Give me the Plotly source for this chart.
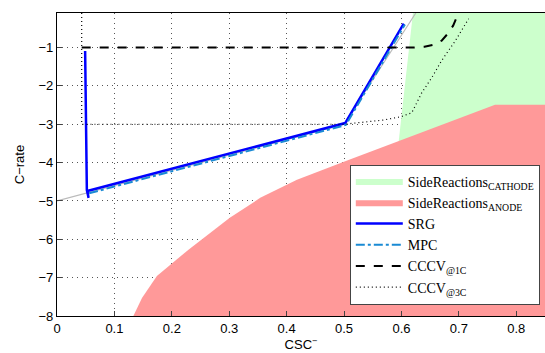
import plotly.graph_objects as go

# Side-reaction regions
cathode_x = [0.620, 0.594, 0.85, 0.85]
cathode_y = [-0.1, -3.6, -3.6, -0.1]

anode_x = [0.133, 0.148, 0.174, 0.214, 0.229, 0.301, 0.354, 0.418, 0.51, 0.763, 0.85, 0.85]
anode_y = [-8.0, -7.53, -6.96, -6.44, -6.27, -5.44, -4.92, -4.45, -3.92, -2.49, -2.49, -8.0]

# Reference (gray) boundary line
ref_x = [0.0, 0.5, 0.625]
ref_y = [-5.0, -3.0, -0.1]

# SRG trajectory
srg_x = [0.049, 0.050, 0.051, 0.052, 0.054, 0.055, 0.053, 0.502, 0.604]
srg_y = [-1.09, -2.0, -3.5, -4.72, -4.85, -4.92, -4.74, -2.97, -0.38]

# MPC trajectory
mpc_x = [0.056, 0.503, 0.606]
mpc_y = [-4.80, -3.02, -0.40]

# CCCV @1C
c1_x = [0.043, 0.62, 0.64, 0.655, 0.67, 0.68, 0.69, 0.695, 0.697]
c1_y = [-1.0, -1.0, -0.98, -0.93, -0.82, -0.65, -0.43, -0.25, -0.1]

# CCCV @3C
c3_x = [0.043, 0.043, 0.50, 0.569, 0.60, 0.618, 0.635, 0.653, 0.67, 0.694, 0.717]
c3_y = [-0.1, -3.0, -3.0, -2.89, -2.8, -2.7, -2.19, -1.78, -1.34, -0.82, -0.25]

x_ticks = [0, 0.1, 0.2, 0.3, 0.4, 0.5, 0.6, 0.7, 0.8]
y_ticks = [-8, -7, -6, -5, -4, -3, -2, -1]

fig = go.Figure()
fig.add_trace(go.Scatter(x=cathode_x, y=cathode_y, fill="toself", mode="lines",
                         line=dict(width=0, color="#ccffcc"), fillcolor="#ccffcc",
                         name="SideReactions<sub>CATHODE</sub>"))
fig.add_trace(go.Scatter(x=anode_x, y=anode_y, fill="toself", mode="lines",
                         line=dict(width=0, color="#ff9999"), fillcolor="#ff9999",
                         name="SideReactions<sub>ANODE</sub>"))
fig.add_trace(go.Scatter(x=ref_x, y=ref_y, mode="lines", line=dict(color="#bbbbbb", width=1.2),
                         showlegend=False, hoverinfo="skip"))
fig.add_trace(go.Scatter(x=srg_x, y=srg_y, mode="lines", line=dict(color="#0000ff", width=2.5),
                         name="SRG"))
fig.add_trace(go.Scatter(x=mpc_x, y=mpc_y, mode="lines",
                         line=dict(color="#1a8ad4", width=2, dash="dashdot"), name="MPC"))
fig.add_trace(go.Scatter(x=c1_x, y=c1_y, mode="lines", line=dict(color="black", width=2, dash="dash"),
                         name="CCCV<sub>@1C</sub>"))
fig.add_trace(go.Scatter(x=c3_x, y=c3_y, mode="lines", line=dict(color="black", width=1.2, dash="1px,3px"),
                         name="CCCV<sub>@3C</sub>"))

axis_common = dict(showline=True, linecolor="black", linewidth=1.3, ticks="inside", ticklen=5,
                   tickcolor="#444", showgrid=True, gridcolor="#555", griddash="1px,4px",
                   gridwidth=1, zeroline=False, automargin=False,
                   tickfont=dict(family="Liberation Sans", size=13, color="black"))

fig.update_xaxes(range=[0, 0.85], tickvals=x_ticks, ticktext=[str(v) for v in x_ticks], mirror=True,
                 title=dict(text="CSC<sup>−</sup>", font=dict(family="Liberation Sans", size=13, color="black"),
                            standoff=5),
                 **axis_common)
fig.update_yaxes(range=[-8, -0.1], tickvals=y_ticks, ticktext=["−" + str(-v) for v in y_ticks],
                 title=dict(text="C−rate", font=dict(family="Liberation Sans", size=13, color="black"),
                            standoff=10),
                 **axis_common)

fig.update_layout(width=545, height=353, autosize=False,
                  margin=dict(l=57, r=0, t=13, b=37),
                  plot_bgcolor="white", paper_bgcolor="white",
                  legend=dict(x=0.6, y=0.5, xanchor="left", yanchor="top",
                              bgcolor="white", bordercolor="#444", borderwidth=1,
                              font=dict(family="Liberation Serif", size=14, color="black"),
                              itemwidth=47, tracegroupgap=0),
                  showlegend=True)

fig.write_html("out.html", config={"displayModeBar": False},
               post_script="document.body.style.margin='0';document.body.style.padding='0';")
